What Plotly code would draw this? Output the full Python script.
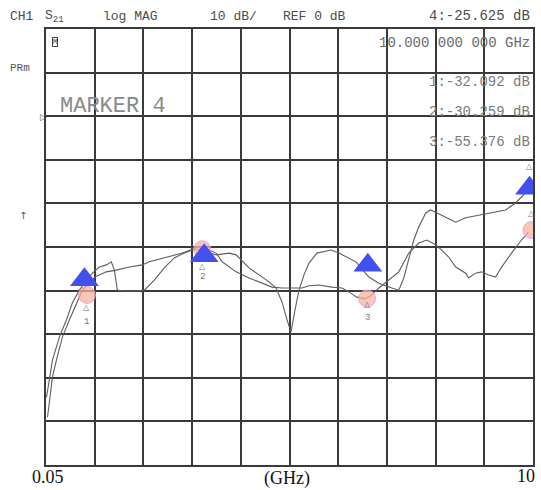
import plotly.graph_objects as go

# ---- data (frequency in GHz, |S21| in dB) ----
freq_a = [0.060, 0.121, 0.183, 0.325, 0.468, 0.590, 0.733, 0.876, 0.998, 1.141, 1.284, 1.385,
          1.447, 1.508, 1.651, 1.854, 2.058, 2.262, 2.466, 2.670, 2.833, 3.037, 3.241, 3.384,
          3.526, 3.791, 3.934, 4.199, 4.403, 4.607, 4.750, 4.872, 4.974, 5.056, 5.137, 5.219,
          5.321, 5.423, 5.586, 5.871, 6.034, 6.177, 6.381, 6.646, 6.850, 7.115, 7.258, 7.360,
          7.462, 7.564, 7.666, 7.809, 7.910, 8.012, 8.134, 8.420, 8.624, 8.889, 9.154, 9.439,
          9.643, 9.765, 9.908]
s21_a = [-64.5, -59.8, -55.9, -50.6, -46.7, -42.8, -39.9, -37.6, -36.0, -34.6, -34.1, -33.4,
         -35.3, -39.9, -40.1, -40.1, -39.9, -37.6, -34.8, -32.5, -31.6, -30.7, -30.5, -31.4,
         -31.8, -31.4, -31.8, -34.8, -36.4, -38.0, -39.4, -42.6, -46.7, -49.5, -44.5, -39.9,
         -36.4, -33.7, -31.4, -30.7, -31.4, -32.3, -33.4, -36.9, -38.3, -39.4, -39.9, -37.1,
         -33.0, -28.4, -25.4, -22.2, -21.5, -22.0, -22.7, -24.3, -23.3, -22.7, -22.2, -21.5,
         -19.9, -18.5, -16.9]

freq_b = [0.081, 0.183, 0.264, 0.386, 0.529, 0.672, 0.794, 0.937, 1.080, 1.284, 1.487, 1.752,
          2.017, 2.160, 2.364, 2.568, 2.833, 3.037, 3.180, 3.384, 3.526, 3.649, 3.934, 4.199,
          4.464, 4.668, 4.872, 5.280, 5.423, 5.627, 5.892, 6.096, 6.238, 6.401, 6.565, 6.687,
          6.850, 7.054, 7.258, 7.462, 7.666, 7.829, 8.012, 8.134, 8.277, 8.420, 8.624, 8.685,
          8.828, 8.950, 9.093, 9.235, 9.358, 9.562, 9.765, 9.908]
s21_b = [-69.0, -59.8, -55.9, -50.6, -46.7, -42.8, -39.9, -38.0, -36.7, -35.7, -35.3, -34.6,
         -34.1, -33.4, -32.8, -32.3, -31.4, -30.5, -30.0, -30.7, -31.4, -33.4, -35.7, -37.1,
         -38.3, -39.2, -39.4, -39.4, -38.9, -38.7, -39.2, -39.4, -40.3, -41.5, -41.9, -41.2,
         -39.4, -37.6, -35.7, -31.4, -29.1, -28.4, -29.5, -30.7, -32.3, -34.6, -36.0, -37.1,
         -36.0, -35.7, -36.4, -36.9, -34.6, -31.4, -28.4, -26.6]

tri_freq = [0.835, 3.282, 6.625, 9.928]
tri_db = [-37.5, -32.0, -34.2, -16.5]
circ_freq = [0.886, 3.241, 6.611, 9.969]
circ_db = [-41.0, -30.5, -41.8, -26.1]
marker_ids = ["1", "2", "3", "4"]
readouts = ["1:-32.092 dB", "2:-30.259 dB", "3:-55.376 dB"]
x_end_labels = ["0.05", "10"]
x_unit = "(GHz)"

# ---- figure ----
W, H = 541, 490
L, R, T, B = 46, 6, 29, 25


def P(px, py):
    """pixel position on the page -> paper coordinates"""
    return (px - L) / (W - L - R), (H - B - py) / (H - T - B)


fig = go.Figure()
fig.add_trace(go.Scatter(x=freq_a, y=s21_a, mode="lines",
                         line=dict(color="#5e5e5e", width=1.1), hoverinfo="skip"))
fig.add_trace(go.Scatter(x=freq_b, y=s21_b, mode="lines",
                         line=dict(color="#5e5e5e", width=1.1), hoverinfo="skip"))
fig.add_trace(go.Scatter(x=circ_freq, y=circ_db, mode="markers",
                         marker=dict(symbol="circle", size=17, color="rgba(246,178,160,0.75)",
                                     line=dict(color="rgba(225,160,210,0.8)", width=1))))
fig.add_trace(go.Scatter(x=tri_freq, y=tri_db, mode="markers",
                         marker=dict(symbol="triangle-up", size=25, color="#4250ee",
                                     line=dict(width=0))))

ann = []
mono = "Liberation Mono"


def txt(text, px, py, size, color, xanchor="left", family=mono, **kw):
    x, y = P(px, py)
    ann.append(dict(text=text, x=x, y=y, xref="paper", yref="paper", xanchor=xanchor,
                    yanchor="middle", showarrow=False,
                    font=dict(family=family, size=size, color=color), **kw))


hdr = "#4c4c4c"
txt("CH1", 8, 17, 13, hdr)
txt("S<sub>21</sub>", 43, 17, 13, hdr)
txt("log MAG", 101, 17, 13, hdr)
txt("10 dB/", 209, 17, 13, hdr)
txt("REF 0 dB", 282, 16, 13, hdr)
txt("4:-25.625 dB", 534, 16, 14, hdr, xanchor="right")
txt("10.000 000 000 GHz", 534, 43, 14, "#6a6a6a", xanchor="right")
for i, r in enumerate(readouts):
    txt(r, 534, 82 + 30 * i, 14, "#7a7a7a", xanchor="right")
txt("PRm", 8, 68, 11, "#555555")
txt("MARKER 4", 58, 106, 22, "#8a8a8a")
txt("\u25b7", 38, 117, 9, "#555555", family="DejaVu Sans")
txt("\u2191", 17, 215, 10, "#555555", family="DejaVu Sans")
txt("M", 52, 42, 7, "#444444", bordercolor="#444444", borderwidth=1, borderpad=0)

serif = "Liberation Serif"
txt(x_end_labels[0], 48, 477, 18, "#111111", xanchor="center", family=serif)
txt(x_unit, 288, 478, 18, "#111111", xanchor="center", family=serif)
txt(x_end_labels[1], 528, 476, 18, "#111111", xanchor="center", family=serif)

# small HP marker glyphs near each marker
glyph_shift = [(-13, -27), (-17, -28), (-6, -20)]
for i in range(3):
    g, d = glyph_shift[i]
    ann.append(dict(text="\u25b3", x=circ_freq[i], y=circ_db[i], xref="x", yref="y",
                    yshift=g, showarrow=False,
                    font=dict(family="DejaVu Sans", size=8, color="#777777")))
    ann.append(dict(text=marker_ids[i], x=circ_freq[i], y=circ_db[i], xref="x", yref="y",
                    yshift=d, showarrow=False, font=dict(family=mono, size=9, color="#777777")))
ann.append(dict(text="\u25b3", x=tri_freq[3], y=tri_db[3], xref="x", yref="y",
                yshift=22, showarrow=False,
                font=dict(family="DejaVu Sans", size=8, color="#777777")))
ann.append(dict(text="\u25b3", x=circ_freq[3], y=circ_db[3], xref="x", yref="y",
                yshift=17, showarrow=False,
                font=dict(family="DejaVu Sans", size=8, color="#777777")))

grid = "#3a3a3a"
fig.update_layout(
    width=W, height=H, margin=dict(l=L, r=R, t=T, b=B, pad=0),
    paper_bgcolor="white", plot_bgcolor="white", showlegend=False,
    annotations=ann,
    xaxis=dict(range=[0.05, 10], tick0=0.05, dtick=0.995, showticklabels=False,
               ticks="", showgrid=True, gridcolor=grid, gridwidth=1.6, zeroline=False,
               showline=True, linecolor=grid, linewidth=1.8, mirror=True, fixedrange=True),
    yaxis=dict(range=[-80, 20], dtick=10, showticklabels=False, ticks="", showgrid=True,
               gridcolor=grid, gridwidth=1.6, zeroline=False, showline=True,
               linecolor=grid, linewidth=1.8, mirror=True, fixedrange=True),
)

fig.write_html("out.html")
